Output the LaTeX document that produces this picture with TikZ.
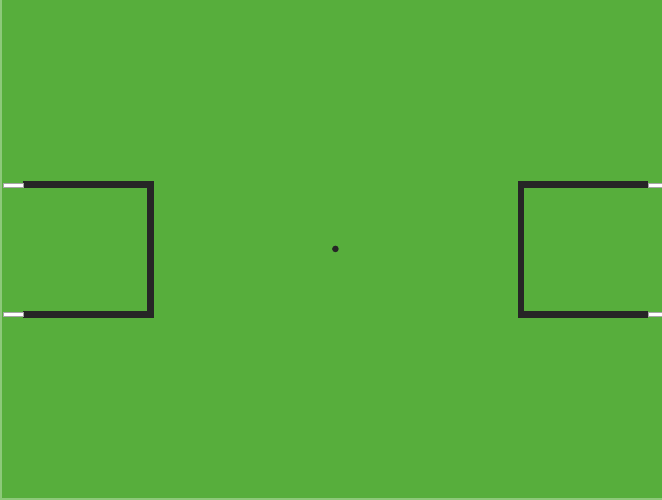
\documentclass[tikz,border=0pt]{standalone}
\usepackage{xcolor}
\definecolor{pitch}{HTML}{57AE3C}
\definecolor{pitchedge}{HTML}{8DC97A}
\definecolor{goalline}{HTML}{262626}
\begin{document}
\begin{tikzpicture}[x=1pt,y=-1pt,
    goal/.style={line width=6.5pt,draw=goalline,line join=miter},
    post/.style={fill=white,draw=gray!70,line width=0.4pt}]
    \fill[pitchedge] (0,0) rectangle (662,500);
    \fill[pitch] (2,0) rectangle (662,498);
    % left goal
    \draw[goal] (23,184.5) -- (150.5,184.5) -- (150.5,314.5) -- (23,314.5);
    \draw[post] (3,183) rectangle (23,187);
    \draw[post] (3,312.5) rectangle (23,316.5);
    % right goal
    \draw[goal] (648,184.5) -- (521,184.5) -- (521,314.5) -- (648,314.5);
    \draw[post] (648,183) rectangle (662,187);
    \draw[post] (648,312.5) rectangle (662,316.5);
    % centre spot
    \fill[goalline] (335.5,249) circle (3.3pt);
\end{tikzpicture}
\end{document}
